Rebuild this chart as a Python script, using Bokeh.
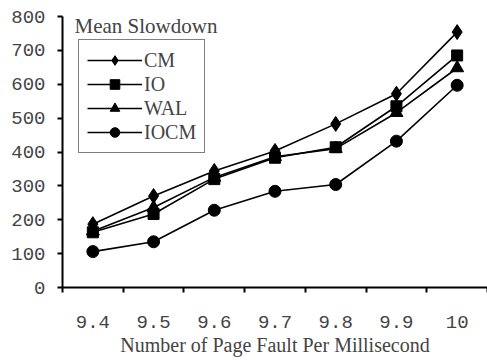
from bokeh.plotting import figure
from bokeh.models import FixedTicker, Label, Legend, Range1d
from bokeh.embed import file_html
from bokeh.resources import INLINE

categories = ["9.4", "9.5", "9.6", "9.7", "9.8", "9.9", "10"]
cm = [187, 270, 344, 403, 483, 572, 754]
io = [163, 217, 320, 383, 414, 535, 685]
wal = [166, 236, 325, 386, 410, 516, 648]
iocm = [106, 135, 228, 284, 304, 432, 597]
y_ticks = [0, 100, 200, 300, 400, 500, 600, 700, 800]

FONT = "Liberation Serif"
TICKFONT = "Liberation Mono"
xs = [i + 0.5 for i in range(len(categories))]

p = figure(width=487, height=360, output_backend="svg", toolbar_location=None,
           x_range=Range1d(0, len(categories)), y_range=Range1d(0, 800))
p.min_border_left = 62
p.min_border_right = 0
p.min_border_top = 16
p.min_border_bottom = 73
p.outline_line_color = None
p.grid.visible = False
p.background_fill_color = "white"
p.border_fill_color = "white"

series = [("CM", cm, "diamond", 15), ("IO", io, "square", 11),
          ("WAL", wal, "triangle", 13), ("IOCM", iocm, "circle", 12)]
items = []
for name, ys, marker, size in series:
    r1 = p.line(xs, ys, line_color="black", line_width=1.6)
    r2 = p.scatter(xs, ys, marker=marker, size=size, fill_color="black", line_color="black")
    items.append((name, [r1, r2]))

legend = Legend(items=items, location=(16, 134))
legend.border_line_color = "black"
legend.border_line_width = 1.5
legend.label_text_font = FONT
legend.label_text_font_size = "20px"
legend.glyph_width = 55
legend.glyph_height = 24
legend.label_height = 24
legend.spacing = 0
legend.padding = 8
legend.margin = 0
legend.label_standoff = 2
legend.background_fill_alpha = 1
p.add_layout(legend, "center")

p.add_layout(Label(x=12, y=262, x_units="screen", y_units="screen", text="Mean Slowdown",
                   text_font=FONT, text_font_size="21px", text_baseline="middle"))

xa = p.xaxis[0]
xa.ticker = FixedTicker(ticks=xs, minor_ticks=list(range(len(categories) + 1)))
xa.major_label_overrides = {x: c for x, c in zip(xs, categories)}
xa.major_tick_line_color = None
xa.minor_tick_out = 5
xa.minor_tick_in = 0
xa.minor_tick_line_width = 2
xa.axis_line_width = 2
xa.major_label_standoff = 22
xa.major_label_text_font = TICKFONT
xa.major_label_text_font_size = "19px"
xa.axis_label = "Number of Page Fault Per Millisecond"
xa.axis_label_text_font = FONT
xa.axis_label_text_font_size = "20px"
xa.axis_label_text_font_style = "normal"
xa.axis_label_standoff = 3

ya = p.yaxis[0]
ya.ticker = FixedTicker(ticks=y_ticks, minor_ticks=[])
ya.major_tick_out = 5
ya.major_tick_in = 0
ya.major_tick_line_width = 2
ya.axis_line_width = 2
ya.major_label_standoff = 12
ya.major_label_text_font = TICKFONT
ya.major_label_text_font_size = "19px"

open("out.html", "w").write(file_html(p, INLINE))
